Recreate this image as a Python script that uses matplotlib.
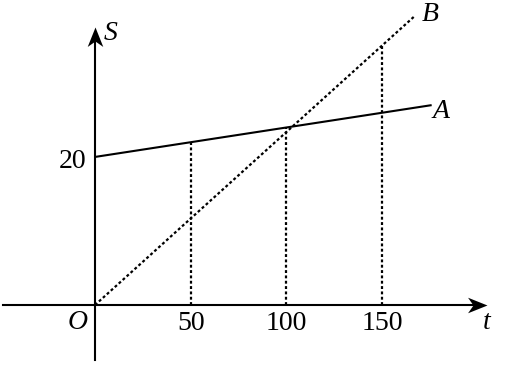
"""
Distance-time sketch: two straight lines A and B with guide lines
"""
import matplotlib.pyplot as plt
from matplotlib.path import Path

# line A (solid) and line B (dotted), end points
t_a = [0, 176]
s_a = [20, 27]
t_b = [0, 167]
s_b = [0, 39]

# dotted guide lines up from the t axis
guide_t = [50, 100, 150]
guide_top = [22, 24, 35]

t_ticks = [50, 100, 150]
t_labels = ['50', '100', '150']
s_ticks = [20]
s_labels = ['20']

plt.rcParams['font.family'] = ['Liberation Serif', 'DejaVu Serif']
fs = 20

# concave arrow heads, tip at the marker origin
head_right = Path([(0, 0), (-1, 0.4), (-0.72, 0), (-1, -0.4), (0, 0)],
                  [Path.MOVETO, Path.LINETO, Path.LINETO, Path.LINETO, Path.CLOSEPOLY])
head_up = Path([(0, 0), (0.4, -1), (0, -0.72), (-0.4, -1), (0, 0)],
               [Path.MOVETO, Path.LINETO, Path.LINETO, Path.LINETO, Path.CLOSEPOLY])

fig = plt.figure(figsize=(5.12, 3.66), dpi=100)
ax = fig.add_axes([0, 0, 1, 1])
ax.set_xlim(-49.66, 218.0)
ax.set_ylim(-8.24, 41.2)
ax.axis('off')

# axes
ax.plot([-48, 202], [0, 0], color='k', lw=1.5)
ax.plot([0, 0], [-7.4, 36], color='k', lw=1.5)
ax.plot([205], [0], marker=head_right, ms=28, color='k', mec='k', mew=0)
ax.plot([0], [37.6], marker=head_up, ms=28, color='k', mec='k', mew=0)

# the two lines
ax.plot(t_a, s_a, color='k', lw=1.5, solid_capstyle='butt')
ax.plot(t_b, s_b, color='k', lw=1.6, linestyle=(0, (1.3, 1.1)))

for t, top in zip(guide_t, guide_top):
    ax.plot([t, t], [0, top], color='k', lw=1.6, linestyle=(0, (1.3, 1.1)))

# tick labels
for t, lab in zip(t_ticks, t_labels):
    ax.text(t, -2.5, lab, fontsize=fs, ha='center', va='center')
for s, lab in zip(s_ticks, s_labels):
    ax.text(-11.5, s - 0.6, lab, fontsize=fs, ha='center', va='center')

# letters
ax.text(-9, -2.4, 'O', fontsize=fs, style='italic', ha='center', va='center')
ax.text(205, -2.4, 't', fontsize=fs, style='italic', ha='center', va='center')
ax.text(8, 36.7, 'S', fontsize=fs, style='italic', ha='center', va='center')
ax.text(181, 26.1, 'A', fontsize=fs, style='italic', ha='center', va='center')
ax.text(175, 39.2, 'B', fontsize=fs, style='italic', ha='center', va='center')

fig.savefig('out.png', dpi=100, facecolor='white')
